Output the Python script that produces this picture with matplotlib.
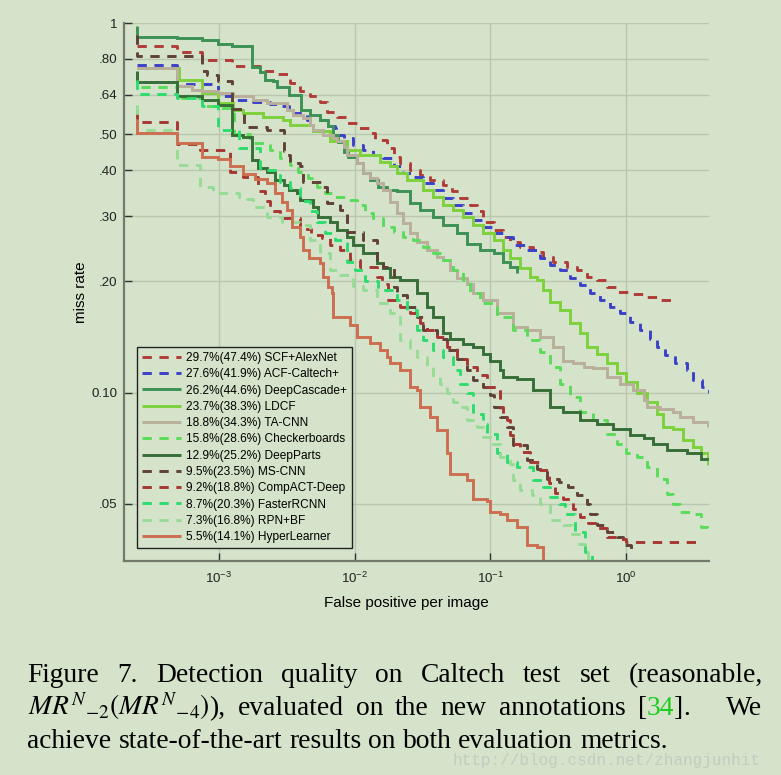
import matplotlib
matplotlib.use('Agg')
import matplotlib.pyplot as plt
from matplotlib.transforms import IdentityTransform
from matplotlib.ticker import NullLocator

BG = '#d4e3c9'

# ---------------- data (fppi, miss rate) ----------------
scf_fppi = [2.49e-4, 4.9e-4, 7.5e-4, 1.25e-3, 2.0e-3, 2.67e-3, 3.35e-3, 3.97e-3, 4.7e-3, 5.58e-3, 6.25e-3, 7.4e-3, 8.8e-3,
            1.07e-2, 1.27e-2, 1.42e-2, 1.73e-2, 1.94e-2, 2.17e-2, 2.57e-2, 3.04e-2, 3.61e-2, 4.52e-2, 5.2e-2, 6.0e-2, 7.1e-2,
            7.96e-2, 8.9e-2, 0.106, 0.125, 0.140, 0.166, 0.208, 0.246, 0.292, 0.366, 0.433, 0.514, 0.609, 0.721, 0.879,
            1.07, 1.35, 1.69, 2.18]
scf_miss = [0.864, 0.834, 0.792, 0.763, 0.740, 0.729, 0.688, 0.656, 0.635, 0.613, 0.576, 0.558, 0.536, 0.519, 0.503,
            0.483, 0.458, 0.435, 0.417, 0.400, 0.388, 0.376, 0.365, 0.350, 0.336, 0.322, 0.309, 0.290, 0.275, 0.264,
            0.256, 0.248, 0.240, 0.233, 0.226, 0.219, 0.2145, 0.206, 0.2015, 0.193, 0.187, 0.1846, 0.181, 0.178, 0.175]

acf_fppi = [2.49e-4, 4.9e-4, 9.9e-4, 1.3e-3, 1.8e-3, 2.4e-3, 2.8e-3, 3.3e-3, 4.5e-3, 6.25e-3, 7.2e-3, 7.3e-3, 8.3e-3,
            9.8e-3, 1.16e-2, 1.38e-2, 1.63e-2, 1.94e-2, 2.29e-2, 2.71e-2, 3.22e-2, 3.82e-2, 4.52e-2, 5.36e-2, 6.35e-2,
            7.52e-2, 8.9e-2, 0.106, 0.125, 0.148, 0.186, 0.233, 0.277, 0.327, 0.388, 0.460, 0.545, 0.646, 0.763, 0.903,
            1.07, 1.27, 1.50, 1.69, 1.95, 2.31, 2.81, 3.15, 3.63, 4.1]
acf_miss = [0.771, 0.683, 0.633, 0.620, 0.613, 0.605, 0.597, 0.570, 0.547, 0.527, 0.519, 0.498, 0.488, 0.468, 0.454,
            0.440, 0.431, 0.409, 0.392, 0.384, 0.368, 0.353, 0.336, 0.322, 0.306, 0.293, 0.281, 0.270, 0.264, 0.251,
            0.243, 0.231, 0.221, 0.2145, 0.204, 0.195, 0.1855, 0.178, 0.1706, 0.1637, 0.1553, 0.1475, 0.140, 0.133,
            0.126, 0.120, 0.115, 0.108, 0.1036, 0.100]

dcas_fppi = [2.49e-4, 2.49e-4, 4.9e-4, 7.5e-4, 9.9e-4, 1.25e-3, 1.75e-3, 2.0e-3, 2.2e-3, 2.5e-3, 2.7e-3, 3.3e-3, 4.0e-3,
             4.7e-3, 5.6e-3, 6.4e-3, 7.0e-3, 7.6e-3, 8.3e-3, 9.0e-3, 1.04e-2, 1.15e-2, 1.3e-2, 1.5e-2, 1.73e-2, 2.05e-2,
             2.57e-2, 3.04e-2, 3.82e-2, 4.52e-2, 5.67e-2, 6.73e-2, 8.4e-2, 0.106, 0.125, 0.140, 0.157]
dcas_miss = [0.98, 0.916, 0.911, 0.901, 0.879, 0.865, 0.758, 0.739, 0.702, 0.695, 0.673, 0.639, 0.580, 0.564, 0.547,
             0.525, 0.498, 0.475, 0.449, 0.435, 0.417, 0.392, 0.375, 0.360, 0.353, 0.350, 0.325, 0.312, 0.299, 0.284,
             0.270, 0.253, 0.243, 0.238, 0.226, 0.219, 0.210]

ldcf_fppi = [2.49e-4, 5.05e-4, 7.5e-4, 9.9e-4, 1.28e-3, 1.51e-3, 2.12e-3, 2.98e-3, 3.35e-3, 4.95e-3, 6.6e-3, 8.8e-3,
             1.1e-2, 1.55e-2, 1.83e-2, 2.05e-2, 2.43e-2, 3.22e-2, 3.82e-2, 4.52e-2, 5.36e-2, 6.35e-2, 7.52e-2, 8.9e-2,
             0.106, 0.125, 0.140, 0.166, 0.197, 0.220, 0.246, 0.277, 0.327, 0.388, 0.460, 0.514, 0.609, 0.721, 0.855,
             1.01, 1.2, 1.42, 1.69, 1.89, 2.22, 2.65, 3.15, 3.6, 4.0]
ldcf_miss = [0.755, 0.699, 0.646, 0.607, 0.582, 0.570, 0.558, 0.547, 0.530, 0.509, 0.480, 0.454, 0.440, 0.4215, 0.409,
             0.392, 0.376, 0.353, 0.339, 0.322, 0.312, 0.299, 0.284, 0.270, 0.259, 0.243, 0.231, 0.217, 0.206, 0.2015,
             0.189, 0.176, 0.167, 0.1538, 0.1445, 0.133, 0.1275, 0.120, 0.1126, 0.107, 0.100, 0.0943, 0.0877, 0.0807,
             0.0798, 0.0743, 0.0712, 0.0684, 0.0635]

tacnn_fppi = [2.49e-4, 4.9e-4, 6.33e-4, 7.5e-4, 9.9e-4, 1.28e-3, 1.8e-3, 2.26e-3, 3.17e-3, 3.55e-3, 4.2e-3, 4.71e-3,
              4.98e-3, 5.9e-3, 7.0e-3, 7.4e-3, 8.3e-3, 8.8e-3, 1.04e-2, 1.16e-2, 1.3e-2, 1.46e-2, 1.63e-2, 1.83e-2,
              2.05e-2, 2.29e-2, 2.57e-2, 2.88e-2, 3.41e-2, 4.04e-2, 4.52e-2, 5.06e-2, 5.67e-2, 6.73e-2, 7.52e-2, 8.9e-2,
              0.112, 0.148, 0.186, 0.233, 0.292, 0.346, 0.41, 0.49, 0.575, 0.721, 0.903, 1.13, 1.35, 1.42, 1.78, 2.22,
              2.5, 3.15, 4.0]
tacnn_miss = [0.755, 0.676, 0.659, 0.653, 0.646, 0.633, 0.620, 0.607, 0.582, 0.564, 0.553, 0.530, 0.514, 0.498, 0.488,
              0.478, 0.463, 0.440, 0.417, 0.392, 0.380, 0.370, 0.353, 0.328, 0.306, 0.287, 0.270, 0.256, 0.243, 0.233,
              0.228, 0.2145, 0.204, 0.197, 0.1855, 0.178, 0.1637, 0.1506, 0.1475, 0.1415, 0.133, 0.122, 0.120, 0.117,
              0.1163, 0.110, 0.1057, 0.1015, 0.0953, 0.0914, 0.0905, 0.0886, 0.0859, 0.0833, 0.0807]

chk_fppi = [2.49e-4, 2.49e-4, 4.9e-4, 7.5e-4, 9.9e-4, 1.3e-3, 1.7e-3, 2.4e-3, 2.8e-3, 3.35e-3, 3.86e-3, 4.57e-3, 5.27e-3,
            6.07e-3, 7.0e-3, 8.8e-3, 1.04e-2, 1.2e-2, 1.38e-2, 1.63e-2, 1.94e-2, 2.29e-2, 2.71e-2, 3.22e-2, 3.82e-2,
            4.52e-2, 5.36e-2, 6.35e-2, 7.1e-2, 8.4e-2, 0.112, 0.148, 0.186, 0.233, 0.277, 0.327, 0.388, 0.460, 0.575,
            0.721, 0.855, 1.01, 1.2, 1.42, 1.69, 2.0, 2.22, 2.5, 2.98, 3.55, 4.0]
chk_miss = [0.73, 0.673, 0.626, 0.598, 0.590, 0.500, 0.473, 0.454, 0.431, 0.413, 0.396, 0.380, 0.360, 0.346, 0.339,
            0.332, 0.322, 0.306, 0.296, 0.281, 0.272, 0.264, 0.259, 0.248, 0.238, 0.228, 0.2145, 0.2015, 0.1855, 0.1746,
            0.160, 0.1475, 0.139, 0.129, 0.117, 0.1057, 0.0973, 0.0886, 0.0841, 0.0774, 0.0727, 0.0684, 0.0669, 0.0628,
            0.0585, 0.0532, 0.050, 0.0475, 0.047, 0.0432, 0.0424]

dparts_fppi = [2.49e-4, 2.49e-4, 4.9e-4, 7.5e-4, 9.9e-4, 1.25e-3, 1.5e-3, 1.75e-3, 1.96e-3, 2.26e-3, 2.6e-3, 3.0e-3,
               3.3e-3, 3.75e-3, 3.97e-3, 4.98e-3, 5.4e-3, 6.6e-3, 7.4e-3, 8.8e-3, 9.8e-3, 1.16e-2, 1.46e-2, 1.63e-2,
               1.83e-2, 2.17e-2, 2.88e-2, 3.41e-2, 3.82e-2, 4.52e-2, 5.06e-2, 6.35e-2, 7.52e-2, 8.9e-2, 0.10, 0.118,
               0.125, 0.157, 0.208, 0.277, 0.346, 0.46, 0.61, 0.80, 1.07, 1.35, 1.59, 2.0, 2.81, 3.55, 4.0]
dparts_miss = [0.74, 0.692, 0.633, 0.620, 0.600, 0.498, 0.493, 0.426, 0.405, 0.395, 0.376, 0.365, 0.353, 0.346, 0.332,
               0.318, 0.299, 0.290, 0.275, 0.264, 0.251, 0.238, 0.224, 0.217, 0.206, 0.2015, 0.1855, 0.1706, 0.160,
               0.1445, 0.140, 0.135, 0.133, 0.1275, 0.122, 0.115, 0.110, 0.109, 0.1015, 0.0914, 0.0886, 0.0841, 0.0824,
               0.0798, 0.0766, 0.0755, 0.0727, 0.0698, 0.0684, 0.0662, 0.0656]

mscnn_fppi = [2.49e-4, 2.49e-4, 7.5e-4, 8.2e-4, 9.9e-4, 1.25e-3, 1.52e-3, 2.26e-3, 3.0e-3, 3.1e-3, 3.35e-3, 3.97e-3,
              4.2e-3, 5.9e-3, 6.25e-3, 7.8e-3, 8.8e-3, 1.16e-2, 1.46e-2, 1.63e-2, 1.94e-2, 2.05e-2, 2.43e-2, 2.88e-2,
              3.22e-2, 4.04e-2, 4.79e-2, 5.67e-2, 6.73e-2, 7.52e-2, 8.9e-2, 0.10, 0.106, 0.118, 0.132, 0.148, 0.186,
              0.220, 0.261, 0.32, 0.376, 0.433, 0.514, 0.545, 0.609, 0.721, 0.855, 0.955, 1.1]
mscnn_miss = [0.93, 0.812, 0.740, 0.724, 0.695, 0.585, 0.524, 0.514, 0.450, 0.440, 0.417, 0.409, 0.372, 0.361, 0.325,
              0.312, 0.272, 0.259, 0.228, 0.219, 0.193, 0.1835, 0.1706, 0.160, 0.1475, 0.140, 0.130, 0.1235, 0.115,
              0.108, 0.1036, 0.0983, 0.0914, 0.0859, 0.0807, 0.0722, 0.0656, 0.0622, 0.0585, 0.0572, 0.0555, 0.0528,
              0.050, 0.047, 0.0437, 0.0419, 0.0406, 0.0386, 0.0362]

compact_fppi = [2.49e-4, 2.49e-4, 4.9e-4, 7.3e-4, 1.2e-3, 1.5e-3, 1.95e-3, 2.2e-3, 2.4e-3, 2.8e-3, 3.97e-3, 4.8e-3,
                5.8e-3, 6.6e-3, 7.8e-3, 9.3e-3, 1.1e-2, 1.46e-2, 1.6e-2, 1.78e-2, 2.17e-2, 2.57e-2, 3.04e-2, 3.41e-2,
                4.04e-2, 4.79e-2, 5.67e-2, 6.73e-2, 7.96e-2, 9.5e-2, 0.118, 0.125, 0.132, 0.140, 0.148, 0.166, 0.197,
                0.233, 0.27, 0.30, 0.346, 0.41, 0.46, 0.53, 0.61, 0.72, 0.88, 1.01, 3.55]
compact_miss = [0.58, 0.541, 0.471, 0.452, 0.396, 0.384, 0.352, 0.330, 0.310, 0.296, 0.277, 0.267, 0.262, 0.250, 0.243,
                0.228, 0.219, 0.205, 0.197, 0.178, 0.1706, 0.1637, 0.1538, 0.1475, 0.1415, 0.133, 0.1235, 0.117,
                0.1115, 0.1036, 0.0914, 0.0877, 0.0841, 0.0767, 0.0727, 0.069, 0.0648, 0.0616, 0.0568, 0.0534, 0.0516,
                0.0485, 0.046, 0.0443, 0.0429, 0.0406, 0.0402, 0.0394, 0.0394]

frcnn_fppi = [2.49e-4, 2.49e-4, 4.9e-4, 7.5e-4, 9.9e-4, 1.4e-3, 2.0e-3, 2.8e-3, 3.35e-3, 3.97e-3, 4.7e-3, 5.3e-3,
              6.1e-3, 7.2e-3, 8.8e-3, 1.0e-2, 1.2e-2, 1.5e-2, 2.05e-2, 2.43e-2, 2.88e-2, 3.22e-2, 3.82e-2, 4.52e-2,
              5.36e-2, 6.0e-2, 6.73e-2, 7.52e-2, 8.9e-2, 9.5e-2, 0.112, 0.132, 0.157, 0.208, 0.246, 0.277, 0.32, 0.356,
              0.42, 0.50, 0.56]
frcnn_miss = [0.70, 0.643, 0.626, 0.597, 0.514, 0.460, 0.400, 0.372, 0.357, 0.330, 0.309, 0.290, 0.270, 0.259, 0.225,
              0.215, 0.200, 0.190, 0.178, 0.167, 0.1475, 0.139, 0.130, 0.125, 0.115, 0.1057, 0.100, 0.0877, 0.0824,
              0.0774, 0.0684, 0.0648, 0.0628, 0.058, 0.0555, 0.0521, 0.050, 0.047, 0.042, 0.037, 0.035]

rpn_fppi = [2.49e-4, 2.49e-4, 4.9e-4, 7.3e-4, 9.0e-4, 1.4e-3, 1.6e-3, 1.8e-3, 2.26e-3, 2.9e-3, 3.97e-3, 4.7e-3, 5.6e-3,
            6.6e-3, 7.4e-3, 9.8e-3, 1.16e-2, 1.46e-2, 1.83e-2, 2.17e-2, 2.57e-2, 2.88e-2, 3.41e-2, 3.82e-2, 4.28e-2,
            4.79e-2, 5.36e-2, 5.67e-2, 6.73e-2, 7.96e-2, 8.9e-2, 0.10, 0.118, 0.14, 0.148, 0.166, 0.202, 0.233, 0.277,
            0.346, 0.40, 0.45, 0.50, 0.53]
rpn_miss = [0.60, 0.514, 0.413, 0.360, 0.346, 0.339, 0.334, 0.317, 0.298, 0.290, 0.284, 0.259, 0.238, 0.214, 0.208,
            0.194, 0.189, 0.1746, 0.1637, 0.139, 0.1316, 0.125, 0.117, 0.110, 0.1057, 0.100, 0.0943, 0.0914, 0.0841,
            0.0807, 0.0758, 0.0727, 0.0669, 0.0642, 0.0579, 0.0544, 0.0528, 0.050, 0.0451, 0.0437, 0.0415, 0.039,
            0.037, 0.035]

hyper_fppi = [2.49e-4, 2.49e-4, 4.9e-4, 7.5e-4, 9.9e-4, 1.21e-3, 1.5e-3, 1.85e-3, 2.26e-3, 2.6e-3, 2.9e-3, 3.2e-3,
              3.45e-3, 3.97e-3, 4.2e-3, 4.6e-3, 5.58e-3, 5.9e-3, 6.4e-3, 6.8e-3, 7.0e-3, 9.3e-3, 1.04e-2, 1.3e-2,
              1.55e-2, 1.73e-2, 1.83e-2, 2.17e-2, 2.57e-2, 2.88e-2, 3.04e-2, 3.61e-2, 4.04e-2, 4.79e-2, 5.06e-2,
              6.73e-2, 7.52e-2, 9.5e-2, 0.10, 0.118, 0.132, 0.157, 0.186, 0.22, 0.246]
hyper_miss = [0.55, 0.503, 0.474, 0.435, 0.428, 0.409, 0.390, 0.379, 0.370, 0.346, 0.328, 0.311, 0.281, 0.264, 0.243,
              0.231, 0.224, 0.206, 0.193, 0.1855, 0.160, 0.1525, 0.1415, 0.136, 0.130, 0.125, 0.120, 0.115, 0.1036,
              0.1015, 0.0914, 0.0859, 0.079, 0.0684, 0.0603, 0.0579, 0.0516, 0.051, 0.0475, 0.047, 0.0451, 0.0432,
              0.0386, 0.0382, 0.035]

labels = ['29.7%(47.4%) SCF+AlexNet', '27.6%(41.9%) ACF-Caltech+', '26.2%(44.6%) DeepCascade+',
          '23.7%(38.3%) LDCF', '18.8%(34.3%) TA-CNN', '15.8%(28.6%) Checkerboards', '12.9%(25.2%) DeepParts',
          '9.5%(23.5%) MS-CNN', '9.2%(18.8%) CompACT-Deep', '8.7%(20.3%) FasterRCNN', '7.3%(16.8%) RPN+BF',
          '5.5%(14.1%) HyperLearner']
series_fppi = [scf_fppi, acf_fppi, dcas_fppi, ldcf_fppi, tacnn_fppi, chk_fppi, dparts_fppi, mscnn_fppi,
               compact_fppi, frcnn_fppi, rpn_fppi, hyper_fppi]
series_miss = [scf_miss, acf_miss, dcas_miss, ldcf_miss, tacnn_miss, chk_miss, dparts_miss, mscnn_miss,
               compact_miss, frcnn_miss, rpn_miss, hyper_miss]
colors = ['#af3c37', '#3c41c8', '#3c9155', '#7dd23c', '#b9af9b', '#5adc5a', '#376e37', '#5f4137',
          '#a53732', '#2ddc6e', '#96dc96', '#cd6e50']
dashed = [True, True, False, False, False, True, False, True, True, True, True, False]

yticks = [0.05, 0.10, 0.20, 0.30, 0.40, 0.50, 0.64, 0.80, 1.0]
ytick_labels = ['.05', '0.10', '.20', '.30', '.40', '.50', '.64', '.80', '1']
xticks = [1e-3, 1e-2, 1e-1, 1e0]
xtick_labels = ['$10^{-3}$', '$10^{-2}$', '$10^{-1}$', '$10^{0}$']

# ---------------- figure ----------------
plt.rcParams['font.family'] = ['Liberation Sans', 'DejaVu Sans']
plt.rcParams['mathtext.fontset'] = 'custom'
plt.rcParams['mathtext.rm'] = 'Liberation Sans'
plt.rcParams['mathtext.it'] = 'Liberation Sans:italic'
plt.rcParams['mathtext.bf'] = 'Liberation Sans:bold'

W, H = 781, 775
fig = plt.figure(figsize=(W / 100, H / 100), dpi=100, facecolor=BG)
ax = fig.add_axes([124 / W, 1 - 561 / H, 585 / W, 538 / H], facecolor=BG)
ax.set_xscale('log')
ax.set_yscale('log')

for fp, mr, lab, col, d in zip(series_fppi, series_miss, labels, colors, dashed, strict=True):
    assert len(fp) == len(mr), lab
    ls = (0, (3.2, 2.6)) if d else '-'
    ax.plot(fp, mr, drawstyle='steps-post', color=col, lw=2.1, linestyle=ls, label=lab,
            dash_capstyle='butt', solid_capstyle='butt', solid_joinstyle='miter')

ax.set_xlim(2e-4, 4.1)
ax.set_ylim(0.035, 1.0)
ax.set_yticks(yticks)
ax.set_yticklabels(ytick_labels)
ax.set_xticks(xticks)
ax.set_xticklabels(xtick_labels)
ax.xaxis.set_minor_locator(NullLocator())
ax.yaxis.set_minor_locator(NullLocator())
ax.grid(True, color='#b8c7ae', lw=1.0)
ax.set_axisbelow(True)
for s in ['top', 'right']:
    ax.spines[s].set_visible(False)
for s in ['left', 'bottom']:
    ax.spines[s].set_color('#737b6e')
    ax.spines[s].set_linewidth(1.6)
ax.tick_params(direction='in', length=6, width=1.0, color='#333333', labelsize=9.6,
               labelcolor='#222222', pad=5)
ax.tick_params(axis='x', pad=7)

ax.set_xlabel('False positive per image', fontsize=11)
ax.xaxis.set_label_coords((406.5 - 124) / 585, (561 - 596) / 538)
ax.set_ylabel('miss rate', fontsize=11)
ax.yaxis.set_label_coords((88 - 124) / 585, 0.5)

leg = ax.legend(loc='lower left', bbox_to_anchor=(13 / 585, 13 / 538), borderaxespad=0, frameon=True,
                fancybox=False, edgecolor='#222222', facecolor=BG, framealpha=1, fontsize=8.6,
                handlelength=3.3, handletextpad=0.4, labelspacing=0.36, borderpad=0.4)
leg.get_frame().set_linewidth(1.0)

# ---------------- caption ----------------
SERIF = 'Liberation Serif'
FS = 19.8
fig.canvas.draw()
rend = fig.canvas.get_renderer()


def make_words(words):
    items = []
    for w in words:
        parts = []
        for s, c in w:
            t = fig.text(0, 0, s, transform=IdentityTransform(), fontsize=FS, family=SERIF, color=c,
                         va='baseline', ha='left', math_fontfamily='stix')
            parts.append(t)
        items.append(parts)
    return items


def place_line(words, x0, ybase, x1=None, gap_w=None):
    items = make_words(words)
    widths = [[t.get_window_extent(rend).width for t in parts] for parts in items]
    totals = [sum(w) for w in widths]
    n = len(items)
    if gap_w is None:
        gap_w = [1.0] * (n - 1)
    if x1 is None:
        unit = FS * 100 / 72 * 0.25
    else:
        unit = (x1 - x0 - sum(totals)) / sum(gap_w)
    x = x0
    yd = H - ybase
    for i, parts in enumerate(items):
        xx = x
        for t, w in zip(parts, widths[i]):
            t.set_position((xx, yd))
            xx += w
        x = xx
        if i < n - 1:
            x += unit * gap_w[i]


K = 'black'
line1 = [[('Figure', K)], [('7.', K)], [('Detection', K)], [('quality', K)], [('on', K)], [('Caltech', K)],
         [('test', K)], [('set', K)], [('(reasonable,', K)]]
line2 = [[(r'$MR^{N}{}_{-2}(MR^{N}{}_{-4})$', K), ('),', K)], [('evaluated', K)], [('on', K)], [('the', K)],
         [('new', K)], [('annotations', K)], [('[', K), ('34', '#1ccc1c'), (']', K), ('.', K)], [('We', K)]]
line3 = [[('achieve', K)], [('state-of-the-art', K)], [('results', K)], [('on', K)], [('both', K)],
         [('evaluation', K)], [('metrics.', K)]]

place_line(line1, 27.5, 681.7, 762.5)
place_line(line2, 27.5, 715.0, 762.5, gap_w=[1, 1, 1, 1, 1, 1, 3])
place_line(line3, 27.5, 748.3)

fig.text(452 / W, 1 - 761 / H, 'http://blog.csdn.net/zhangjunhit', fontsize=11.5, family='Liberation Mono',
         color='#c4cbc0', ha='left', va='center')

fig.savefig('out.png', dpi=100, facecolor=BG)
